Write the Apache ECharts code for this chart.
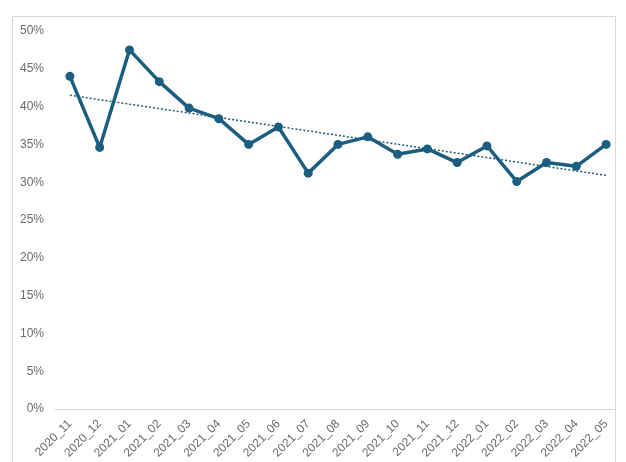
<!DOCTYPE html>
<html>
<head>
<meta charset="utf-8">
<script src="https://cdn.jsdelivr.net/npm/echarts@6/dist/echarts.min.js"></script>
<style>
  html, body { margin: 0; padding: 0; background: #fff; }
  #chart { width: 626px; height: 462px; }
</style>
</head>
<body>
<div id="chart"></div>
<script>
// months on the x axis
const months = [
  '2020_11', '2020_12', '2021_01', '2021_02', '2021_03', '2021_04', '2021_05',
  '2021_06', '2021_07', '2021_08', '2021_09', '2021_10', '2021_11', '2021_12',
  '2022_01', '2022_02', '2022_03', '2022_04', '2022_05'
]
// percent values
const rates = [
  44.0, 34.6, 47.5, 43.3, 39.8, 38.4, 35.0, 37.3, 31.2, 35.0,
  36.0, 33.7, 34.4, 32.6, 34.8, 30.1, 32.6, 32.1, 35.0
]
// trend line endpoints (first and last month)
const trendEnds = [41.5, 30.9]
const yTicks = [0, 5, 10, 15, 20, 25, 30, 35, 40, 45, 50]

const lineColor = '#1b5e80'
const chart = echarts.init(document.getElementById('chart'))

const option = {
  animation: false,
  backgroundColor: '#fff',
  grid: { left: 55, right: 5, top: 31, bottom: 53 },
  xAxis: {
    type: 'category',
    data: months,
    boundaryGap: true,
    axisLine: { lineStyle: { color: '#d9d9d9', width: 1 } },
    axisTick: { show: false },
    axisLabel: {
      rotate: 45,
      interval: 0,
      margin: 13,
      color: '#6b6b6b',
      fontSize: 12,
      fontFamily: 'Liberation Sans, Arial, sans-serif'
    }
  },
  yAxis: {
    type: 'value',
    min: yTicks[0],
    max: yTicks[yTicks.length - 1],
    interval: 5,
    axisLine: { show: false },
    axisTick: { show: false },
    splitLine: { show: false },
    axisLabel: {
      formatter: '{value}%',
      margin: 11,
      color: '#6b6b6b',
      fontSize: 12,
      fontFamily: 'Liberation Sans, Arial, sans-serif'
    }
  },
  series: [
    {
      name: 'trend',
      type: 'line',
      data: [[months[0], trendEnds[0]], [months[months.length - 1], trendEnds[1]]],
      showSymbol: false,
      lineStyle: { color: lineColor, width: 1.5, type: [2, 2] },
      z: 1
    },
    {
      name: 'rate',
      type: 'line',
      data: rates,
      symbol: 'circle',
      symbolSize: 9,
      itemStyle: { color: lineColor },
      lineStyle: { color: lineColor, width: 3.5 },
      z: 2
    }
  ],
  graphic: [
    {
      type: 'rect',
      z: 100,
      shape: { x: 616, y: 0, width: 10, height: 462 },
      style: { fill: '#fff' }
    },
    {
      type: 'rect',
      z: 101,
      shape: { x: 12.5, y: 16.5, width: 603, height: 460 },
      style: { fill: 'none', stroke: '#d9d9d9', lineWidth: 1 }
    }
  ]
}

chart.setOption(option)
</script>
</body>
</html>
